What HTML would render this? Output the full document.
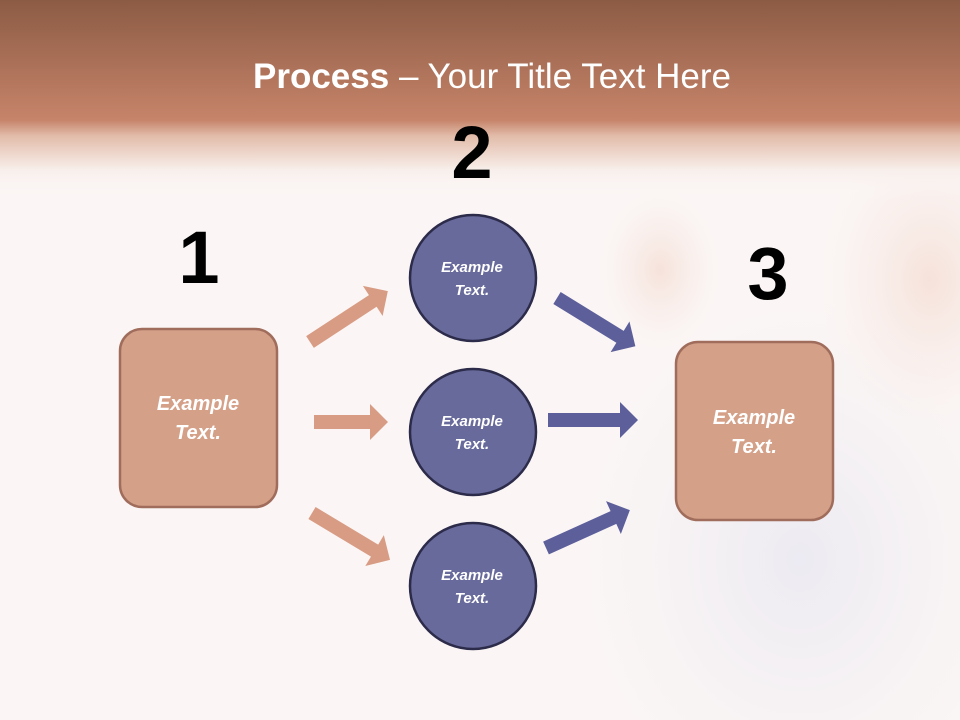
<!DOCTYPE html>
<html><head><meta charset="utf-8"><style>
html,body{margin:0;padding:0;}
body{width:960px;height:720px;overflow:hidden;font-family:"Liberation Sans",sans-serif;}
svg{display:block;}
</style></head><body>
<svg width="960" height="720" viewBox="0 0 960 720" xmlns="http://www.w3.org/2000/svg">
<defs>
<linearGradient id="hdr" x1="0" y1="0" x2="0" y2="1">
<stop offset="0" stop-color="#8c5b44"/>
<stop offset="0.6" stop-color="#c6846a"/>
<stop offset="0.68" stop-color="#e2bcaa"/>
<stop offset="0.85" stop-color="#f8efeb"/>
<stop offset="1" stop-color="#fbf6f5" stop-opacity="0"/>
</linearGradient>
<radialGradient id="shirt" cx="0.5" cy="0.5" r="0.5">
<stop offset="0" stop-color="#eceaf2"/>
<stop offset="1" stop-color="#f3f0f3" stop-opacity="0"/>
</radialGradient>
<radialGradient id="face" cx="0.5" cy="0.5" r="0.5">
<stop offset="0" stop-color="#f6e2da"/>
<stop offset="1" stop-color="#f8ece8" stop-opacity="0"/>
</radialGradient>
</defs>
<rect width="960" height="720" fill="#fbf6f5"/>
<ellipse cx="800" cy="560" rx="220" ry="260" fill="url(#shirt)"/>
<ellipse cx="930" cy="280" rx="110" ry="150" fill="url(#face)"/>
<ellipse cx="660" cy="270" rx="60" ry="80" fill="url(#face)"/>
<rect width="960" height="200" fill="url(#hdr)"/>
<text x="492" y="88" text-anchor="middle" fill="#ffffff" font-size="35" font-family="Liberation Sans, sans-serif"><tspan font-weight="bold">Process</tspan> – Your Title Text Here</text>

<g font-family="Liberation Sans, sans-serif" font-weight="bold" font-size="74" fill="#000" text-anchor="middle">
<text x="199" y="283">1</text>
<text x="472" y="178">2</text>
<text x="768" y="299">3</text>
</g>

<g fill="#d89c84">
<polygon transform="translate(310,342) rotate(-33.2)" points="0,-7 75,-7 75,-18 93,0 75,18 75,7 0,7"/>
<polygon transform="translate(314,422)" points="0,-7 56,-7 56,-18 74,0 56,18 56,7 0,7"/>
<polygon transform="translate(312,513) rotate(31)" points="0,-7 73,-7 73,-18 91,0 73,18 73,7 0,7"/>
</g>
<g fill="#5d5f9b">
<polygon transform="translate(557,298) rotate(31.6)" points="0,-7 74,-7 74,-18 92,0 74,18 74,7 0,7"/>
<polygon transform="translate(548,420)" points="0,-7 72,-7 72,-18 90,0 72,18 72,7 0,7"/>
<polygon transform="translate(546,548) rotate(-24.3)" points="0,-7 74,-7 74,-18 92,0 74,18 74,7 0,7"/>
</g>

<rect x="120" y="329" width="157" height="178" rx="22" fill="#d5a088" stroke="#a06d5c" stroke-width="2.5"/>
<rect x="676" y="342" width="157" height="178" rx="22" fill="#d5a088" stroke="#a06d5c" stroke-width="2.5"/>
<g fill="#686a9c" stroke="#2c2b4a" stroke-width="2.5">
<circle cx="473" cy="278" r="63"/>
<circle cx="473" cy="432" r="63"/>
<circle cx="473" cy="586" r="63"/>
</g>
<g fill="#fff" font-style="italic" font-weight="bold" text-anchor="middle" font-family="Liberation Sans, sans-serif">
<text x="198" y="410" font-size="20">Example</text>
<text x="198" y="439" font-size="20">Text.</text>
<text x="754" y="424" font-size="20">Example</text>
<text x="754" y="453" font-size="20">Text.</text>
<text x="472" y="272" font-size="15">Example</text>
<text x="472" y="295" font-size="15">Text.</text>
<text x="472" y="426" font-size="15">Example</text>
<text x="472" y="449" font-size="15">Text.</text>
<text x="472" y="580" font-size="15">Example</text>
<text x="472" y="603" font-size="15">Text.</text>
</g>
</svg>
</body></html>
